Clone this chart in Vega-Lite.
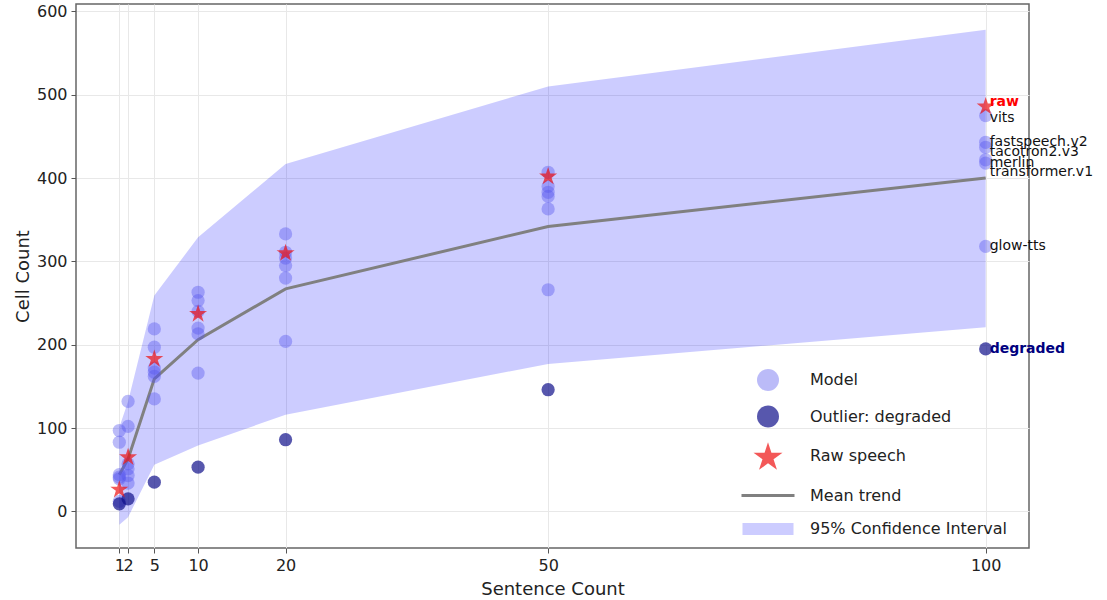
{
  "$schema": "https://vega.github.io/schema/vega-lite/v6.json",
  "autosize": "none",
  "width": 953,
  "height": 544,
  "padding": {"left": 76, "top": 4, "right": 78, "bottom": 52},
  "background": "white",
  "config": {
    "font": "DejaVu Sans",
    "view": {"stroke": "#666666", "strokeWidth": 1.5},
    "axis": {
      "domain": false,
      "grid": true,
      "gridColor": "#e8e8e8",
      "gridWidth": 1,
      "tickColor": "#555555",
      "tickSize": 5,
      "tickWidth": 1,
      "labelFont": "DejaVu Sans",
      "labelFontSize": 16,
      "labelColor": "#222222",
      "titleFont": "DejaVu Sans",
      "titleFontSize": 18,
      "titleFontWeight": "normal",
      "titleColor": "#222222",
      "labelPadding": 4
    },
    "legend": {
      "title": null,
      "orient": "none",
      "legendX": 681,
      "legendY": 365,
      "labelFont": "DejaVu Sans",
      "labelFontSize": 16,
      "labelColor": "#222222",
      "labelLimit": 400,
      "labelOffset": 31,
      "rowPadding": 14.5,
      "symbolSize": 484,
      "symbolStrokeWidth": 0,
      "symbolOpacity": 1
    }
  },
  "datasets": {
    "pts": [
      {"x": 1, "y": 97, "kind": "Model", "model": "vits"},
      {"x": 1, "y": 83, "kind": "Model", "model": "fastspeech.v2"},
      {"x": 1, "y": 44, "kind": "Model", "model": "tacotron2.v3"},
      {"x": 1, "y": 41, "kind": "Model", "model": "merlin"},
      {"x": 1, "y": 39, "kind": "Model", "model": "transformer.v1"},
      {"x": 1, "y": 12, "kind": "Model", "model": "glow-tts"},
      {"x": 2, "y": 132, "kind": "Model", "model": "vits"},
      {"x": 2, "y": 102, "kind": "Model", "model": "fastspeech.v2"},
      {"x": 2, "y": 57, "kind": "Model", "model": "tacotron2.v3"},
      {"x": 2, "y": 51, "kind": "Model", "model": "merlin"},
      {"x": 2, "y": 43, "kind": "Model", "model": "transformer.v1"},
      {"x": 2, "y": 34, "kind": "Model", "model": "glow-tts"},
      {"x": 5, "y": 219, "kind": "Model", "model": "vits"},
      {"x": 5, "y": 197, "kind": "Model", "model": "fastspeech.v2"},
      {"x": 5, "y": 172, "kind": "Model", "model": "tacotron2.v3"},
      {"x": 5, "y": 167, "kind": "Model", "model": "merlin"},
      {"x": 5, "y": 162, "kind": "Model", "model": "transformer.v1"},
      {"x": 5, "y": 135, "kind": "Model", "model": "glow-tts"},
      {"x": 10, "y": 263, "kind": "Model", "model": "vits"},
      {"x": 10, "y": 253, "kind": "Model", "model": "fastspeech.v2"},
      {"x": 10, "y": 240, "kind": "Model", "model": "tacotron2.v3"},
      {"x": 10, "y": 220, "kind": "Model", "model": "merlin"},
      {"x": 10, "y": 213, "kind": "Model", "model": "transformer.v1"},
      {"x": 10, "y": 166, "kind": "Model", "model": "glow-tts"},
      {"x": 20, "y": 333, "kind": "Model", "model": "vits"},
      {"x": 20, "y": 311, "kind": "Model", "model": "fastspeech.v2"},
      {"x": 20, "y": 304, "kind": "Model", "model": "tacotron2.v3"},
      {"x": 20, "y": 295, "kind": "Model", "model": "merlin"},
      {"x": 20, "y": 280, "kind": "Model", "model": "transformer.v1"},
      {"x": 20, "y": 204, "kind": "Model", "model": "glow-tts"},
      {"x": 50, "y": 407, "kind": "Model", "model": "vits"},
      {"x": 50, "y": 390, "kind": "Model", "model": "fastspeech.v2"},
      {"x": 50, "y": 383, "kind": "Model", "model": "tacotron2.v3"},
      {"x": 50, "y": 378, "kind": "Model", "model": "merlin"},
      {"x": 50, "y": 363, "kind": "Model", "model": "transformer.v1"},
      {"x": 50, "y": 266, "kind": "Model", "model": "glow-tts"},
      {"x": 100, "y": 475, "kind": "Model", "model": "vits"},
      {"x": 100, "y": 443, "kind": "Model", "model": "fastspeech.v2"},
      {"x": 100, "y": 437, "kind": "Model", "model": "tacotron2.v3"},
      {"x": 100, "y": 422, "kind": "Model", "model": "merlin"},
      {"x": 100, "y": 418, "kind": "Model", "model": "transformer.v1"},
      {"x": 100, "y": 318, "kind": "Model", "model": "glow-tts"},
      {"x": 1, "y": 9, "kind": "Outlier: degraded", "model": "degraded"},
      {"x": 2, "y": 15, "kind": "Outlier: degraded", "model": "degraded"},
      {"x": 5, "y": 35, "kind": "Outlier: degraded", "model": "degraded"},
      {"x": 10, "y": 53, "kind": "Outlier: degraded", "model": "degraded"},
      {"x": 20, "y": 86, "kind": "Outlier: degraded", "model": "degraded"},
      {"x": 50, "y": 146, "kind": "Outlier: degraded", "model": "degraded"},
      {"x": 100, "y": 195, "kind": "Outlier: degraded", "model": "degraded"},
      {"x": 1, "y": 27, "kind": "Raw speech", "model": "raw"},
      {"x": 2, "y": 66, "kind": "Raw speech", "model": "raw"},
      {"x": 5, "y": 184, "kind": "Raw speech", "model": "raw"},
      {"x": 10, "y": 238, "kind": "Raw speech", "model": "raw"},
      {"x": 20, "y": 311, "kind": "Raw speech", "model": "raw"},
      {"x": 50, "y": 403, "kind": "Raw speech", "model": "raw"},
      {"x": 100, "y": 487, "kind": "Raw speech", "model": "raw"}
    ],
    "summary": [
      {"x": 1, "mean": 44, "lo": -16, "hi": 101},
      {"x": 2, "mean": 63, "lo": -7, "hi": 132},
      {"x": 5, "mean": 159, "lo": 56, "hi": 259},
      {"x": 10, "mean": 206, "lo": 79, "hi": 329},
      {"x": 20, "mean": 267, "lo": 116, "hi": 417},
      {"x": 50, "mean": 342, "lo": 177, "hi": 510},
      {"x": 100, "mean": 400, "lo": 221, "hi": 578}
    ]
  },
  "layer": [
    {
      "data": {"name": "summary"},
      "mark": {"type": "area", "color": "#0000ff", "opacity": 0.2},
      "encoding": {
        "x": {
          "field": "x", "type": "quantitative",
          "scale": {"domain": [-3.95, 104.95], "nice": false, "zero": false},
          "axis": {"title": "Sentence Count", "values": [1, 2, 5, 10, 20, 50, 100], "labelOverlap": false, "labelFlush": false, "titlePadding": 7}
        },
        "y": {
          "field": "hi", "type": "quantitative",
          "scale": {"domain": [-44, 609], "nice": false, "zero": false},
          "axis": {"title": "Cell Count", "values": [0, 100, 200, 300, 400, 500, 600], "titlePadding": 4}
        },
        "y2": {"field": "lo"}
      }
    },
    {
      "data": {"name": "summary"},
      "mark": {"type": "line", "color": "#808080", "strokeWidth": 3},
      "encoding": {
        "x": {"field": "x", "type": "quantitative"},
        "y": {"field": "mean", "type": "quantitative"}
      }
    },
    {
      "data": {"name": "pts"},
      "mark": {"type": "point", "filled": true, "opacity": 1, "strokeWidth": 0, "size": {"expr": "datum.kind === 'Raw speech' ? 187 : 175"}},
      "encoding": {
        "x": {"field": "x", "type": "quantitative"},
        "y": {"field": "y", "type": "quantitative"},
        "color": {
          "field": "kind", "type": "nominal",
          "scale": {
            "domain": ["Model", "Outlier: degraded", "Raw speech", "Mean trend", "95% Confidence Interval"],
            "range": ["rgba(85,85,238,0.4)", "rgba(16,16,138,0.7)", "rgba(238,17,17,0.7)", "#808080", "rgba(0,0,255,0.2)"]
          }
        },
        "shape": {
          "field": "kind", "type": "nominal",
          "scale": {
            "domain": ["Model", "Outlier: degraded", "Raw speech", "Mean trend", "95% Confidence Interval"],
            "range": ["circle", "circle", "M0,-1.254L0.312,-0.297L1.318,-0.297L0.503,0.295L0.815,1.253L0,0.661L-0.815,1.253L-0.503,0.295L-1.318,-0.297L-0.312,-0.297Z", "M-2.41,-0.136L2.41,-0.136L2.41,0.136L-2.41,0.136Z", "M-2.32,-0.545L2.32,-0.545L2.32,0.545L-2.32,0.545Z"]
          }
        }
      }
    },
    {
      "data": {"name": "pts"},
      "transform": [{"filter": "datum.x === 100 && datum.kind === 'Model'"}],
      "mark": {
        "type": "text", "align": "left", "baseline": "middle", "dx": 4, "fontSize": 14, "font": "DejaVu Sans", "color": "#111111",
        "dy": {"expr": "datum.model === 'vits' ? 2 : datum.model === 'tacotron2.v3' ? 5 : datum.model === 'merlin' ? 3 : datum.model === 'transformer.v1' ? 9 : 0"}
      },
      "encoding": {
        "x": {"field": "x", "type": "quantitative"},
        "y": {"field": "y", "type": "quantitative"},
        "text": {"field": "model"}
      }
    },
    {
      "data": {"name": "pts"},
      "transform": [{"filter": "datum.x === 100 && datum.kind !== 'Model'"}],
      "mark": {
        "type": "text", "align": "left", "baseline": "middle", "dx": 4, "fontSize": 14, "font": "DejaVu Sans", "fontWeight": "bold",
        "dy": {"expr": "datum.model === 'raw' ? -4 : 0"}
      },
      "encoding": {
        "x": {"field": "x", "type": "quantitative"},
        "y": {"field": "y", "type": "quantitative"},
        "color": {
          "condition": {"test": "datum.model === 'raw'", "value": "#ff0000"},
          "value": "#000080"
        },
        "text": {"field": "model"}
      }
    }
  ]
}
